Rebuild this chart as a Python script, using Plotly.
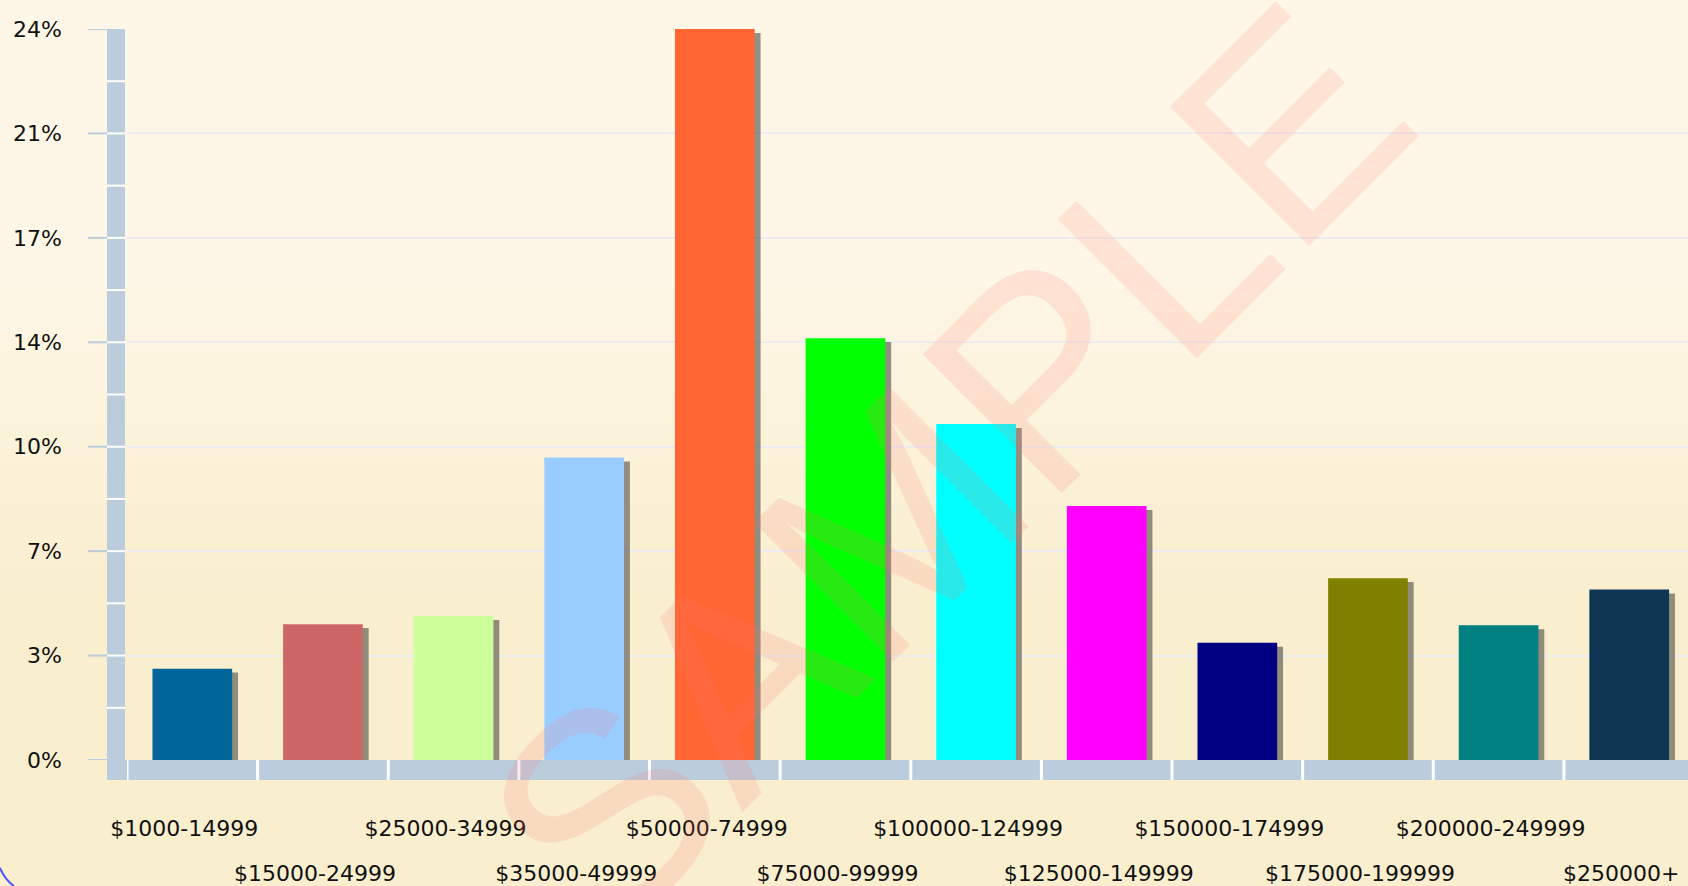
import plotly.graph_objects as go

categories = ["$1000-14999", "$15000-24999", "$25000-34999", "$35000-49999",
              "$50000-74999", "$75000-99999", "$100000-124999", "$125000-149999",
              "$150000-174999", "$175000-199999", "$200000-249999", "$250000+"]
values = [3.0, 4.46, 4.73, 9.93, 24.0, 13.85, 11.03, 8.34, 3.85, 5.97, 4.42, 5.60]
bar_colors = ["#006699", "#CC6666", "#CCFF99", "#99CCFF", "#FF6633", "#00FF00",
              "#00FFFF", "#FF00FF", "#000080", "#808000", "#008080", "#0E3652"]
y_max = 24.0
y_tick_vals = [y_max * k / 7 for k in range(8)]
y_tick_text = ["0%", "3%", "7%", "10%", "14%", "17%", "21%", "24%"]

W, H = 1688, 886


def px_x(p):
    return p / W


def px_y(p):
    return 1 - p / H


idx = list(range(len(categories)))
bar_w = 0.61
font = dict(family="DejaVu Sans", size=22, color="#111111")

fig = go.Figure()
# drop shadow (on the base x axis, drawn underneath)
fig.add_trace(go.Bar(x=idx, y=[v - 0.13 for v in values], width=bar_w,
                     offset=-bar_w / 2 + 0.045, xaxis="x", yaxis="y",
                     marker=dict(color="rgba(40,40,40,0.5)", line=dict(width=0)),
                     hoverinfo="skip", showlegend=False))
# main bars (on the overlaying x axis, drawn on top)
fig.add_trace(go.Bar(x=idx, y=values, width=bar_w, xaxis="x2", yaxis="y",
                     marker=dict(color=bar_colors, line=dict(width=0)),
                     showlegend=False))

shapes = []
# background gradient
top_c = (254, 247, 232)
bot_c = (249, 238, 206)
step = 6
for y0 in range(0, H, step):
    t = min(1.0, max(0.0, (y0 - 250) / 350))
    c = tuple(round(top_c[i] + (bot_c[i] - top_c[i]) * t) for i in range(3))
    shapes.append(dict(type="rect", xref="paper", yref="paper", layer="below",
                       x0=0, x1=1, y0=px_y(y0 + step + 1), y1=px_y(y0),
                       fillcolor="rgb(%d,%d,%d)" % c, line=dict(width=0)))

axis_col = "#BBCCDD"
# vertical axis bar
shapes.append(dict(type="rect", xref="paper", yref="paper", layer="above",
                   x0=px_x(107), x1=px_x(125), y0=px_y(780), y1=px_y(29),
                   fillcolor=axis_col, line=dict(width=0)))
# bottom axis bar
shapes.append(dict(type="rect", xref="paper", yref="paper", layer="above",
                   x0=px_x(125), x1=1, y0=px_y(780), y1=px_y(760),
                   fillcolor=axis_col, line=dict(width=0)))
# white separators on bottom bar (category boundaries)
for k in range(len(categories) + 1):
    shapes.append(dict(type="line", xref="x", yref="paper", layer="above",
                       x0=k - 0.5, x1=k - 0.5, y0=px_y(780), y1=px_y(760),
                       line=dict(color="white", width=3)))
# white separators on vertical bar
for k in range(1, 14):
    yv = y_max * k / 14
    shapes.append(dict(type="line", xref="paper", yref="y", layer="above",
                       x0=px_x(107), x1=px_x(125), y0=yv, y1=yv,
                       line=dict(color="white", width=2)))
# tick marks left of vertical bar
for yv in y_tick_vals:
    shapes.append(dict(type="line", xref="paper", yref="y", layer="above",
                       x0=px_x(88), x1=px_x(107), y0=yv, y1=yv,
                       line=dict(color=axis_col, width=2)))
# rounded frame corner at bottom-left
shapes.append(dict(type="path", xref="paper", yref="paper", layer="above",
                   path="M 0,%f Q %f,%f %f,0" % (px_y(868), px_x(5), px_y(880), px_x(14)),
                   line=dict(color="#5555FF", width=2)))

x_common = dict(range=[-0.5, 11.45], showgrid=False, zeroline=False,
                showline=False, ticks="", automargin=False,
                ticklabeloverflow="allow", tickfont=font, ticklabelshift=-8)

fig.update_layout(
    width=W, height=H,
    margin=dict(l=0, r=0, t=0, b=0, autoexpand=False),
    paper_bgcolor="#FEF7E8",
    plot_bgcolor="rgba(0,0,0,0)",
    barmode="overlay",
    shapes=shapes,
    xaxis=dict(domain=[px_x(127), 1], anchor="y",
               tickvals=idx[0::2], ticktext=categories[0::2],
               ticklabelstandoff=53, **x_common),
    xaxis2=dict(overlaying="x", anchor="y", side="bottom",
                tickvals=idx[1::2], ticktext=categories[1::2],
                ticklabelstandoff=98, **x_common),
    yaxis=dict(domain=[px_y(760), px_y(29)], range=[0, y_max], showgrid=True,
               gridcolor="#ECECF0", gridwidth=2, zeroline=False, showline=False,
               ticks="", tickvals=y_tick_vals, ticktext=y_tick_text,
               ticklabeloverflow="allow",
               automargin=False, tickfont=font, ticklabelstandoff=64),
    annotations=[dict(text="SAMPLE", xref="paper", yref="paper",
                      x=px_x(947), y=px_y(468), xanchor="center", yanchor="middle",
                      textangle=-45, showarrow=False,
                      font=dict(family="Liberation Sans", size=286,
                                color="rgba(255,120,110,0.16)"))],
)

fig.write_html("out.html", post_script="document.body.style.margin='0';",
               config={"displayModeBar": False})
